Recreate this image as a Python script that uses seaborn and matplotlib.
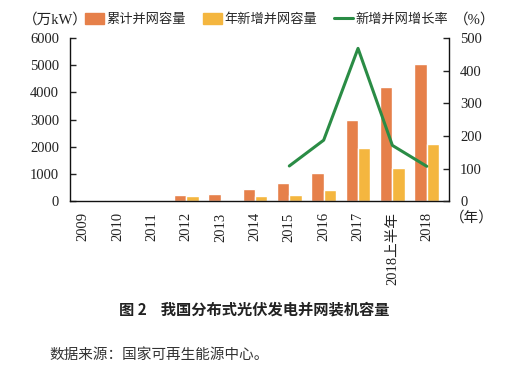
import pandas as pd
import matplotlib
matplotlib.use("Agg")
import matplotlib.pyplot as plt
import seaborn as sns
from matplotlib.patches import Patch
from matplotlib.lines import Line2D

# data
years = ["2009", "2010", "2011", "2012", "2013", "2014", "2015", "2016", "2017", "2018上半年", "2018"]
cumulative = [0, 55, 50, 230, 260, 460, 680, 1030, 2970, 4190, 5060]
added = [0, 45, 12, 190, 40, 200, 220, 420, 1950, 1220, 2100]
growth_years = ["2015", "2016", "2017", "2018上半年", "2018"]
growth = [108, 187, 468, 171, 107]

orange = "#E6804A"
yellow = "#F4B63F"
green = "#2A8C45"

sns.set_theme(style="white")
plt.rcParams["font.family"] = ["Liberation Serif", "Noto Sans CJK SC"]
plt.rcParams["axes.unicode_minus"] = False

df = pd.DataFrame({
    "year": years * 2,
    "value": cumulative + added,
    "series": ["累计并网容量"] * len(years) + ["年新增并网容量"] * len(years),
})

fig = plt.figure(figsize=(5.08, 3.72), dpi=100)
ax = fig.add_axes([0.138, 0.459, 0.746, 0.439])

sns.barplot(data=df, x="year", y="value", hue="series", order=years,
            palette=[orange, yellow], width=0.72, saturation=1, ax=ax, legend=False)

ax.set_xlim(-0.38, len(years) - 0.35)
ax.set_ylim(0, 6000)
ax.set_yticks(range(0, 6001, 1000))
ax.set_xlabel("")
ax.set_ylabel("")
ax.tick_params(axis="y", direction="in", length=4, width=1, labelsize=10.5, colors="#222222", left=True, pad=8)
ax.tick_params(axis="x", length=0, labelsize=10.5, colors="#222222", pad=8)
for lab in ax.get_xticklabels():
    lab.set_rotation(90)
for s in ["left", "bottom"]:
    ax.spines[s].set_color("#111111")
    ax.spines[s].set_linewidth(1.0)
ax.spines["top"].set_visible(False)
ax.spines["right"].set_visible(False)

# growth rate on the right axis
ax2 = ax.twinx()
xpos = [years.index(y) for y in growth_years]
sns.lineplot(x=xpos, y=growth, color=green, linewidth=2.2, ax=ax2)
ax2.set_ylim(0, 500)
ax2.set_yticks(range(0, 501, 100))
ax2.set_ylabel("")
ax2.tick_params(axis="y", direction="in", length=4, width=1, labelsize=10.5, colors="#222222", right=True, pad=8)
for s in ["top", "left", "bottom"]:
    ax2.spines[s].set_visible(False)
ax2.spines["right"].set_color("#111111")
ax2.spines["right"].set_linewidth(1.0)

# legend
handles = [Patch(color=orange, label="累计并网容量"),
           Patch(color=yellow, label="年新增并网容量"),
           Line2D([0], [0], color=green, lw=2.2, label="新增并网增长率")]
fig.legend(handles=handles, loc="center", bbox_to_anchor=(0.525, 0.948), ncol=3, frameon=False,
           handlelength=1.4, handleheight=0.9, handletextpad=0.2, columnspacing=1.3,
           prop={"family": ["Noto Sans CJK SC"], "size": 9.5})

fig.text(0.045, 0.948, "（万kW）", fontsize=10.5, va="center", color="#222222")
fig.text(0.893, 0.948, "（%）", fontsize=10.5, va="center", color="#222222")
fig.text(0.885, 0.415, "（年）", fontsize=10.5, va="center", color="#222222")

fig.text(0.5, 0.167, "图 2    我国分布式光伏发电并网装机容量", fontsize=11, ha="center", va="center",
         fontweight="bold", color="#222222", family=["Noto Sans CJK SC"])
fig.text(0.098, 0.046, "数据来源：国家可再生能源中心。", fontsize=10.5, va="center",
         color="#333333", family=["Noto Sans CJK SC"])

fig.savefig("out.png", dpi=100)
